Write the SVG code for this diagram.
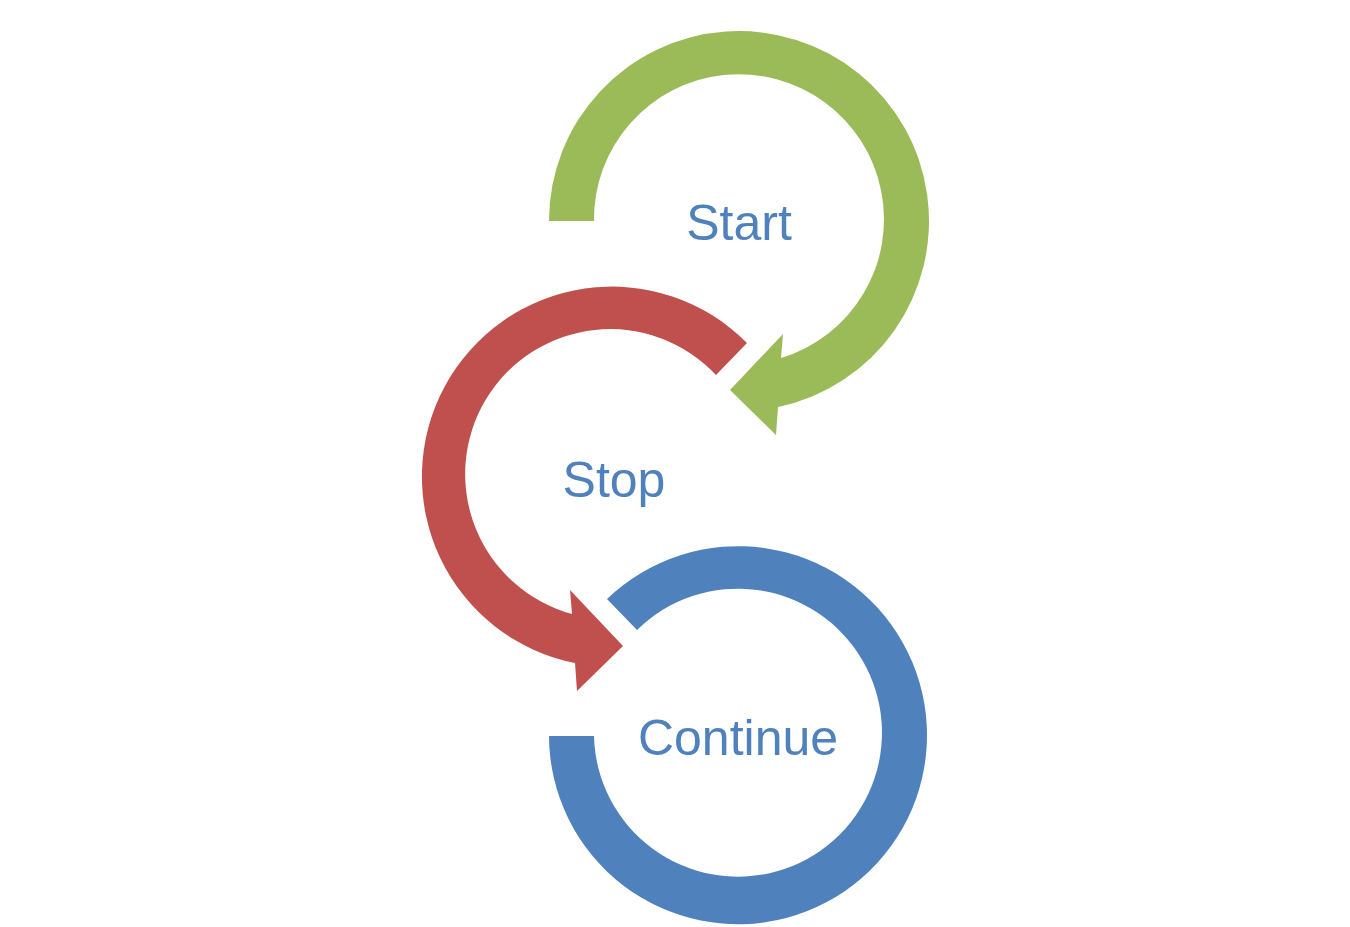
<svg xmlns="http://www.w3.org/2000/svg" width="1350" height="927" viewBox="0 0 1350 927">
<style>
.lbl{font-family:"Liberation Sans",Arial,sans-serif;font-size:50px;fill:#4F81BD;stroke:#fff;stroke-width:2;paint-order:stroke;text-anchor:middle}
</style>
<rect width="1350" height="927" fill="#fff"/>
<g id="connectors">
<path id="arc-start" d="M549,221 A190,190 0 1,1 778,407 L776,435 L730,390 L783,334 L781,358 A145,145 0 1,0 594,221 Z" fill="#9BBB59"/>
<path id="arc-stop" d="M747,343 A190,190 0 1,0 575,663 L577,691 L623,646 L570,590 L572,614 A145,145 0 1,1 716,375 Z" fill="#C0504D"/>
<path id="arc-continue" d="M607,599 A189,189 0 1,1 549,736 L594,736 A144,144 0 1,0 637,630 Z" fill="#4F81BD"/>
</g>
<g id="node-start"><text class="lbl" x="739" y="240">Start</text></g>
<g id="node-stop"><text class="lbl" x="614" y="497">Stop</text></g>
<g id="node-continue"><text class="lbl" x="738" y="755">Continue</text></g>
</svg>
